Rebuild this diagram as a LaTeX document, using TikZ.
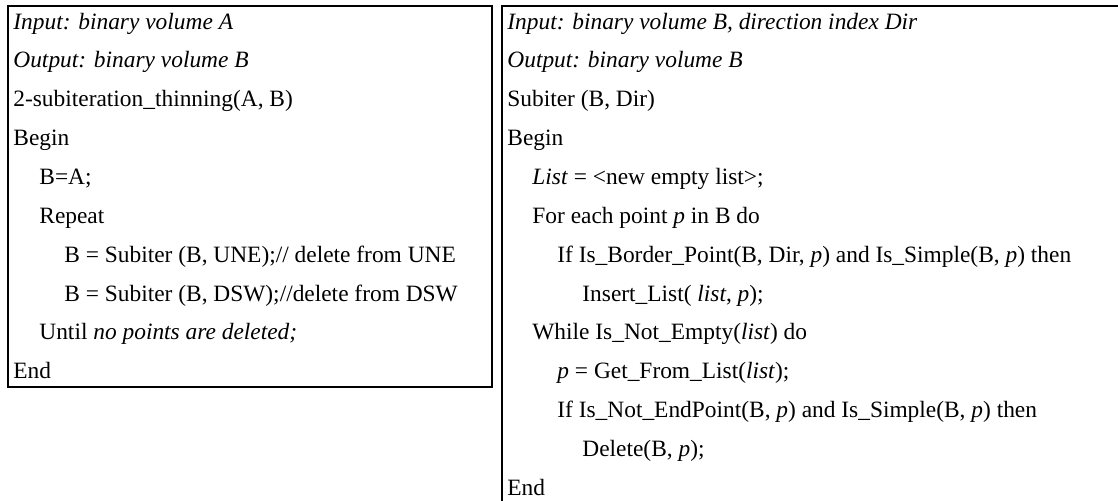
\documentclass[tikz,border=0pt]{standalone}
\usepackage{fontspec}
\setmainfont{Liberation Serif}
\tikzset{codeline/.style = {anchor=base west, inner sep=0pt, font=\fontsize{11.7}{14}\selectfont}}
\tikzset{codebox/.style = {draw, line width=1pt}}

\begin{document}
\begin{tikzpicture}[x=0.5pt, y=-0.5pt]
      \useasboundingbox (0,0) rectangle (1118,500);
      \clip (0,0) rectangle (1118,500);

      % frames
      \draw[codebox] (8,6) rectangle (492,387);
      \draw[codebox] (1130,6) -- (502,6) -- (502,510);

      % thinning loop
      \node[codeline] (t1) at (13, 29) {\textit{Input: binary volume A}};
      \node[codeline] (t2) at (13, 67.9) {\textit{Output: binary volume B}};
      \node[codeline] (t3) at (13, 106.7) {2-subiteration\_thinning(A, B)};
      \node[codeline] (t4) at (13, 145.6) {Begin};
      \node[codeline] (t5) at (39, 184.4) {B=A;};
      \node[codeline] (t6) at (39, 223.3) {Repeat};
      \node[codeline] (t7) at (64, 262.1) {B = Subiter (B, UNE);// delete from UNE};
      \node[codeline] (t8) at (64, 301) {B = Subiter (B, DSW);//delete from DSW};
      \node[codeline] (t9) at (39, 339.8) {Until \textit{no points are deleted;}};
      \node[codeline] (t10) at (13, 378.7) {End};

      % one subiteration
      \node[codeline] (s1) at (507, 29) {\textit{Input: binary volume B, direction index Dir}};
      \node[codeline] (s2) at (507, 67.9) {\textit{Output: binary volume B}};
      \node[codeline] (s3) at (507, 106.7) {Subiter (B, Dir)};
      \node[codeline] (s4) at (507, 145.6) {Begin};
      \node[codeline] (s5) at (532, 184.4) {\textit{List} = <new empty list>;};
      \node[codeline] (s6) at (532, 223.3) {For each point \textit{p} in B do};
      \node[codeline] (s7) at (557, 262.1) {If Is\_Border\_Point(B, Dir, \textit{p}) and Is\_Simple(B, \textit{p}) then};
      \node[codeline] (s8) at (582, 301) {Insert\_List( \textit{list}, \textit{p});};
      \node[codeline] (s9) at (532, 339.8) {While Is\_Not\_Empty(\textit{list}) do};
      \node[codeline] (s10) at (557, 378.7) {\textit{p} = Get\_From\_List(\textit{list});};
      \node[codeline] (s11) at (557, 417.5) {If Is\_Not\_EndPoint(B, \textit{p}) and Is\_Simple(B, \textit{p}) then};
      \node[codeline] (s12) at (582, 456.4) {Delete(B, \textit{p});};
      \node[codeline] (s13) at (507, 495.2) {End};
    \end{tikzpicture}
\end{document}
